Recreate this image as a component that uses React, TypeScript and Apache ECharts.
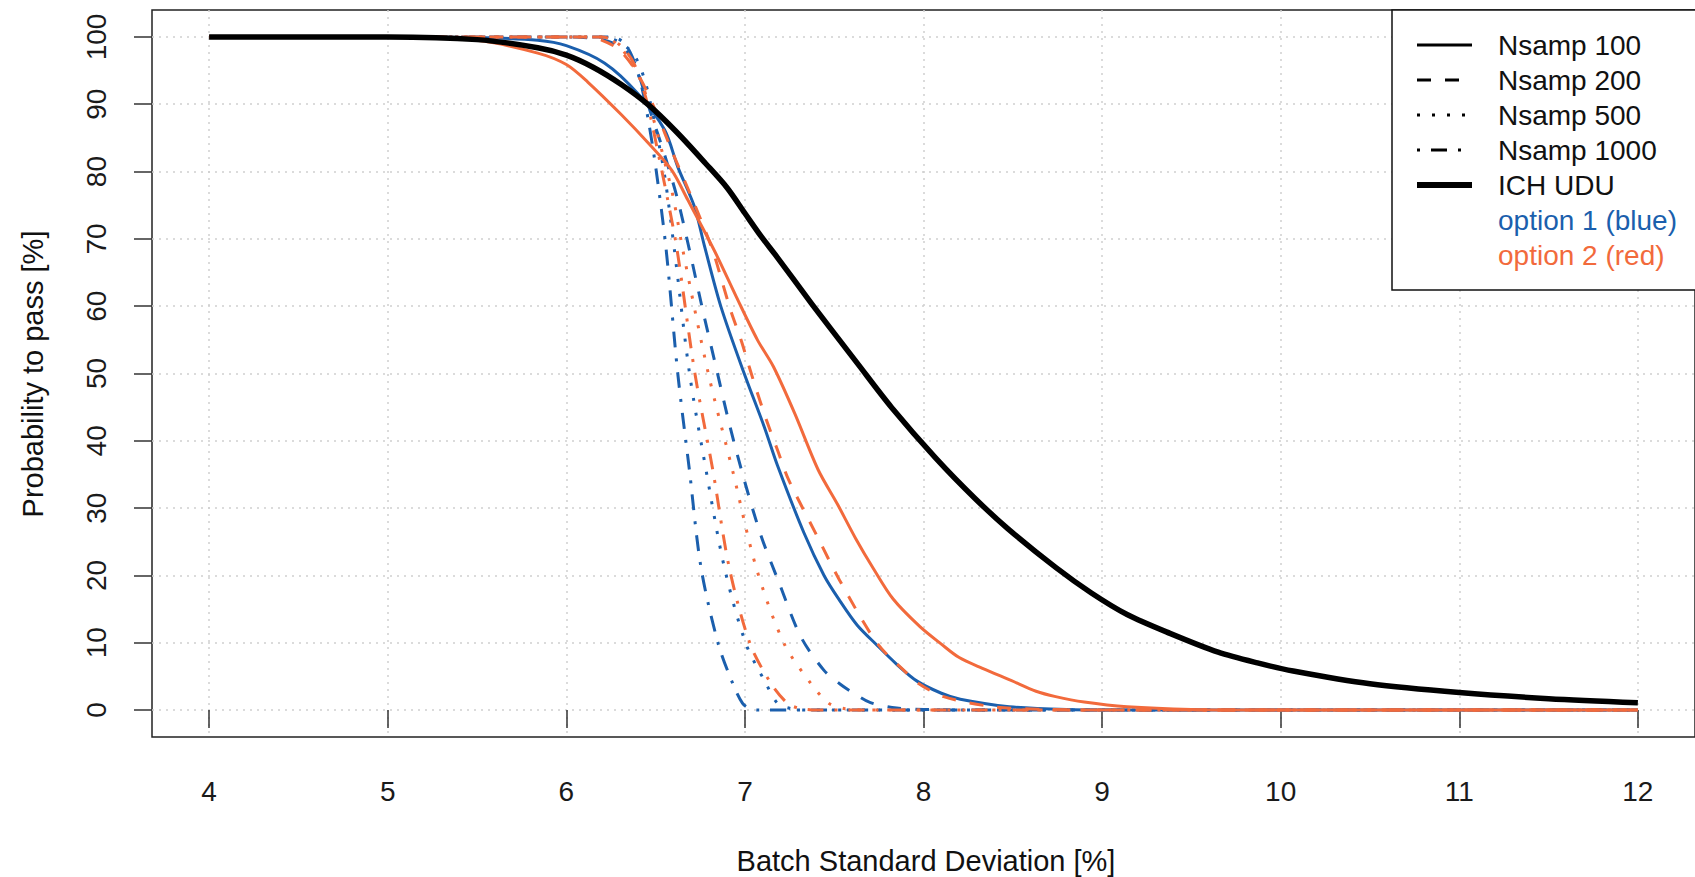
import React, { useEffect, useRef } from "react";
import * as echarts from "echarts";

const xTicks = [4, 5, 6, 7, 8, 9, 10, 11, 12];
const yTicks = [0, 10, 20, 30, 40, 50, 60, 70, 80, 90, 100];

const ichUdu: [number, number][] = [
  [4, 100], [5, 100], [5.5, 99.6], [5.84, 98.4], [6.0, 97.3], [6.15, 95.5], [6.31, 92.9],
  [6.46, 89.9], [6.62, 85.8], [6.78, 81.2], [6.9, 77.6], [7.0, 73.8], [7.09, 70.4],
  [7.18, 67.3], [7.37, 60.5], [7.52, 55.3], [7.63, 51.5], [7.82, 45.0], [8.07, 37.4],
  [8.29, 31.4], [8.47, 27.0], [8.74, 21.2], [8.94, 17.4], [9.14, 14.2], [9.38, 11.4],
  [9.65, 8.6], [9.87, 7.0], [10.07, 5.8], [10.5, 3.9], [11.0, 2.6], [11.5, 1.7], [12.0, 1.1],
];

const blue100: [number, number][] = [
  [4, 100], [5, 100], [5.5, 99.9], [5.84, 99.5], [6.0, 98.7], [6.215, 96.1], [6.4, 91.6],
  [6.55, 86.2], [6.624, 80.7], [6.717, 74.8], [6.773, 69.0], [6.866, 59.9], [6.996, 50.0],
  [7.108, 42.1], [7.183, 36.3], [7.331, 26.3], [7.443, 20.0], [7.53, 16.3], [7.629, 12.6],
  [7.741, 9.6], [7.85, 6.8], [7.964, 4.3], [8.1, 2.5], [8.206, 1.6], [8.48, 0.5],
  [8.8, 0.1], [9.2, 0], [12, 0],
];

const blue200: [number, number][] = [
  [4, 100], [6.0, 100], [6.2, 99.6], [6.3, 98.6], [6.355, 97.3], [6.41, 94.0], [6.457, 90.0],
  [6.55, 82.5], [6.624, 75.8], [6.689, 68.4], [6.764, 59.4], [6.838, 51.0], [6.912, 42.6],
  [6.996, 34.2], [7.089, 26.0], [7.19, 19.0], [7.313, 10.9], [7.443, 5.9], [7.536, 3.8],
  [7.61, 2.5], [7.703, 1.1], [7.85, 0.3], [8.0, 0.1], [8.3, 0], [12, 0],
];

const blue500: [number, number][] = [
  [4, 100], [6.2, 100], [6.3, 99.2], [6.38, 97.3], [6.44, 93.5], [6.5, 86.5], [6.55, 79.5],
  [6.605, 68.4], [6.69, 50.0], [6.782, 35.7], [6.885, 21.2], [7.005, 9.9], [7.117, 4.0],
  [7.183, 1.0], [7.26, 0.2], [7.35, 0], [12, 0],
];

const blue1000: [number, number][] = [
  [4, 100], [6.25, 100], [6.32, 99.2], [6.37, 97.0], [6.42, 92.8], [6.46, 87.5], [6.503, 80.2],
  [6.559, 68.4], [6.624, 50.0], [6.689, 35.7], [6.754, 21.2], [6.85, 9.9], [6.931, 4.0],
  [6.987, 1.0], [7.03, 0.2], [7.08, 0], [12, 0],
];

const red100: [number, number][] = [
  [4, 100], [5, 100], [5.5, 99.5], [5.84, 97.6], [6.0, 95.9], [6.12, 93.3], [6.31, 88.4],
  [6.46, 84.2], [6.59, 80.2], [6.68, 75.8], [6.83, 68.2], [6.95, 61.5], [7.07, 55.0],
  [7.16, 51.0], [7.28, 44.0], [7.41, 35.7], [7.52, 30.5], [7.62, 25.5], [7.72, 21.0],
  [7.83, 16.5], [7.98, 12.4], [8.1, 9.8], [8.2, 7.8], [8.33, 6.2], [8.49, 4.4], [8.63, 2.8],
  [8.74, 2.0], [8.9, 1.2], [9.14, 0.5], [9.5, 0.1], [10, 0], [12, 0],
];

const red200: [number, number][] = [
  [4, 100], [6.1, 100], [6.2, 99.5], [6.3, 98.0], [6.4, 94.5], [6.5, 89.0], [6.6, 82.5],
  [6.72, 75.0], [6.818, 68.4], [6.875, 63.4], [6.92, 59.4], [6.978, 55.0], [7.024, 51.0],
  [7.07, 47.1], [7.127, 42.6], [7.183, 38.6], [7.245, 34.2], [7.406, 25.75], [7.53, 19.3],
  [7.741, 9.9], [7.89, 5.9], [7.97, 4.0], [8.113, 2.0], [8.39, 0.5], [8.7, 0.1], [9.0, 0], [12, 0],
];

const red500: [number, number][] = [
  [4, 100], [6.2, 100], [6.3, 98.5], [6.4, 94.5], [6.48, 88.5], [6.55, 81.5], [6.6, 76.0],
  [6.652, 68.4], [6.795, 50.0], [6.93, 35.7], [7.065, 21.0], [7.219, 9.9], [7.368, 4.0],
  [7.47, 1.0], [7.56, 0.2], [7.7, 0], [12, 0],
];

const red1000: [number, number][] = [
  [4, 100], [6.2, 100], [6.3, 98.8], [6.38, 96.0], [6.45, 90.5], [6.52, 82.0], [6.57, 75.5],
  [6.62, 68.4], [6.72, 50.0], [6.82, 35.7], [6.912, 21.2], [7.028, 9.9], [7.145, 4.0],
  [7.238, 1.0], [7.3, 0.3], [7.4, 0], [12, 0],
];

const legendLabels = [
  "Nsamp 100", "Nsamp 200", "Nsamp 500", "Nsamp 1000", "ICH UDU", "option 1 (blue)", "option 2 (red)",
];

const BLUE = "#1b5fad";
const RED = "#f26a3c";
const FONT = "'Liberation Sans', Arial, Helvetica, sans-serif";

const DASHED = [14, 14];
const DOTTED = [3, 12];
const DASHDOT = [3, 11, 16, 11];

function lineSeries(name: string, data: [number, number][], color: string, type: any, width: number, z: number) {
  return {
    type: "line",
    name,
    data,
    z,
    symbol: "none",
    showSymbol: false,
    smooth: 0.3,
    silent: true,
    lineStyle: { color, width, type, cap: "butt", join: "round" },
  };
}

export default function App() {
  const ref = useRef<HTMLDivElement>(null);

  useEffect(() => {
    if (!ref.current) return;
    const chart = echarts.init(ref.current, null, { renderer: "svg" });

    const rowY = [45, 80, 115, 150, 185, 220, 255];
    const sampleStyles = [
      { dash: null, w: 3 },
      { dash: DASHED, w: 3 },
      { dash: DOTTED, w: 3 },
      { dash: DASHDOT, w: 3 },
      { dash: null, w: 6 },
    ];
    const legendEls: any[] = [
      {
        type: "rect",
        z: 100,
        shape: { x: 1392, y: 10, width: 330, height: 280 },
        style: { fill: "#ffffff", stroke: "#111111", lineWidth: 1.5 },
      },
    ];
    sampleStyles.forEach((s, i) => {
      legendEls.push({
        type: "line",
        z: 101,
        shape: { x1: 1417, y1: rowY[i], x2: 1472, y2: rowY[i] },
        style: { stroke: "#000000", lineWidth: s.w, lineDash: s.dash || undefined, lineCap: "butt" },
      });
    });
    legendLabels.forEach((t, i) => {
      legendEls.push({
        type: "text",
        z: 101,
        x: 1498,
        y: rowY[i],
        style: {
          text: t,
          font: `28px ${FONT}`,
          fill: i === 5 ? BLUE : i === 6 ? RED : "#111111",
          align: "left",
          verticalAlign: "middle",
        },
      });
    });

    const option: any = {
      animation: false,
      backgroundColor: "#ffffff",
      grid: {
        left: 152,
        top: 10,
        width: 1548,
        height: 727,
        show: true,
        borderColor: "#222222",
        borderWidth: 1.5,
        backgroundColor: "transparent",
      },
      xAxis: {
        type: "value",
        min: 3.68,
        max: 12.32,
        axisLine: { show: false },
        axisTick: {
          show: true,
          customValues: xTicks,
          length: 18,
          inside: false,
          lineStyle: { color: "#333333", width: 1.5 },
        },
        axisLabel: {
          customValues: xTicks,
          margin: 40,
          fontSize: 28,
          fontFamily: FONT,
          color: "#1a1a1a",
          verticalAlign: "top",
        },
        splitLine: {
          show: true,
          lineStyle: { color: "#d0d0d0", width: 1.5, type: [2, 5] },
        },
      },
      yAxis: {
        type: "value",
        min: -4,
        max: 104,
        axisLine: { show: false },
        axisTick: {
          show: true,
          customValues: yTicks,
          length: 18,
          inside: false,
          lineStyle: { color: "#333333", width: 1.5 },
        },
        axisLabel: {
          customValues: yTicks,
          rotate: 90,
          margin: 42,
          fontSize: 28,
          fontFamily: FONT,
          color: "#1a1a1a",
        },
        splitLine: {
          show: true,
          lineStyle: { color: "#d0d0d0", width: 1.5, type: [2, 5] },
        },
      },
      graphic: [
        {
          type: "text",
          z: 100,
          x: 926,
          y: 861,
          style: {
            text: "Batch Standard Deviation [%]",
            font: `29px ${FONT}`,
            fill: "#111111",
            align: "center",
            verticalAlign: "middle",
          },
        },
        {
          type: "text",
          z: 100,
          x: 33,
          y: 374,
          rotation: Math.PI / 2,
          style: {
            text: "Probability to pass [%]",
            font: `29px ${FONT}`,
            fill: "#111111",
            align: "center",
            verticalAlign: "middle",
          },
        },
        ...legendEls,
      ],
      series: [
        lineSeries("option 1 Nsamp 1000", blue1000, BLUE, DASHDOT, 3, 2),
        lineSeries("option 1 Nsamp 500", blue500, BLUE, DOTTED, 3, 3),
        lineSeries("option 1 Nsamp 200", blue200, BLUE, DASHED, 3, 4),
        lineSeries("option 1 Nsamp 100", blue100, BLUE, "solid", 3, 5),
        lineSeries("option 2 Nsamp 1000", red1000, RED, DASHDOT, 3, 6),
        lineSeries("option 2 Nsamp 500", red500, RED, DOTTED, 3, 7),
        lineSeries("option 2 Nsamp 200", red200, RED, DASHED, 3, 8),
        lineSeries("option 2 Nsamp 100", red100, RED, "solid", 3, 9),
        lineSeries("ICH UDU", ichUdu, "#000000", "solid", 5.5, 10),
      ],
    };

    chart.setOption(option);
    return () => chart.dispose();
  }, []);

  return (
    <div
      ref={ref}
      style={{ position: "absolute", left: 0, top: 0, width: 1695, height: 877, background: "#fff" }}
    />
  );
}
